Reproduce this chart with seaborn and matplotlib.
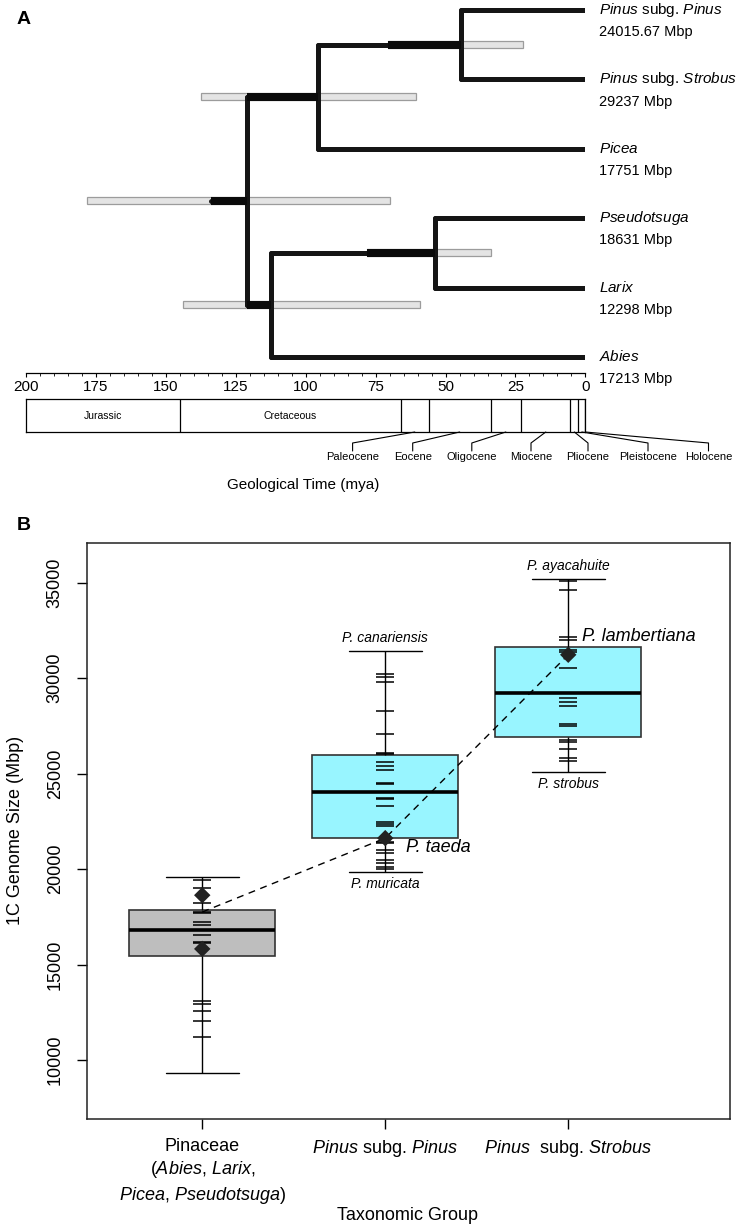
import numpy as np
import pandas as pd
import matplotlib
matplotlib.use("Agg")
import matplotlib.pyplot as plt
import seaborn as sns

# ---------------- data: panel A (time-calibrated tree) ----------------
tip_labels = [r"$\mathit{Pinus}$ subg. $\mathit{Pinus}$", r"$\mathit{Pinus}$ subg. $\mathit{Strobus}$",
              r"$\mathit{Picea}$", r"$\mathit{Pseudotsuga}$", r"$\mathit{Larix}$", r"$\mathit{Abies}$"]
tip_genome = ["24015.67 Mbp", "29237 Mbp", "17751 Mbp", "18631 Mbp", "12298 Mbp", "17213 Mbp"]
# internal nodes: children refer to tips 0..5 or nodes 6..10
node_children = [(0, 1), (6, 2), (3, 4), (8, 5), (7, 9)]
node_age = [44.5, 95.6, 53.8, 112.4, 121.0]
node_hpd_low = [22.3, 60.4, 33.7, 59.1, 69.9]
node_hpd_high = [70.6, 137.4, 78.1, 143.9, 178.2]
root_stem_age = 134.0

time_ticks = list(range(0, 201, 25))
period_names = ["Jurassic", "Cretaceous"]
period_start = [200, 145]
period_end = [145, 66]
epoch_names = ["Paleocene", "Eocene", "Oligocene", "Miocene", "Pliocene", "Pleistocene", "Holocene"]
epoch_start = [66, 56, 33.9, 23, 5.33, 2.58, 0.0117]
epoch_end = [56, 33.9, 23, 5.33, 2.58, 0.0117, 0]

# ---------------- data: panel B (genome sizes) ----------------
groups = ["Pinaceae", "Pinus subg. Pinus", "Pinus subg. Strobus"]
group_ticklabels = ["Pinaceae\n($\\mathit{Abies}$, $\\mathit{Larix}$,\n$\\mathit{Picea}$, $\\mathit{Pseudotsuga}$)",
                    r"$\mathit{Pinus}$ subg. $\mathit{Pinus}$",
                    r"$\mathit{Pinus}$  subg. $\mathit{Strobus}$"]
box_min = [9303, 19869, 25110]
box_q1 = [15451, 21620, 26892]
box_median = [16814, 24031, 29219]
box_q3 = [17862, 25986, 31610]
box_max = [19576, 31436, 35210]
box_colors = ["#bebebe", "#98f5ff", "#98f5ff"]

species_pinaceae = [19434, 19020, 18213, 17751, 17690, 17207, 17075, 16551, 16201, 16117,
                    13109, 12935, 12585, 12029, 11222]
species_pinus = [30215, 30037, 29775, 28291, 27070, 26106, 26040, 25634, 25425, 25215,
                 24510, 24450, 23730, 23660, 23313, 22490, 22370, 22230, 21420, 21360,
                 21007, 20832, 20482, 20308, 20131, 19995]
species_strobus = [35070, 34600, 32154, 32013, 31489, 31347, 30529, 28957, 28731, 28521,
                   27610, 27469, 26772, 26631, 26284, 25812, 25671]
sequenced_group = [0, 0, 1, 2]
sequenced_size = [18631, 15818, 21620, 31226]
trend_group = [0, 1, 2]
trend_size = [17751, 21620, 31226]
extreme_labels = ["P. canariensis", "P. muricata", "P. ayacahuite", "P. strobus"]
extreme_group = [1, 1, 2, 2]
extreme_is_max = [True, False, True, False]
big_labels = ["P. taeda", "P. lambertiana"]
big_label_group = [1, 2]
big_label_size = [21620, 31226]

# ---------------- style ----------------
sns.set_theme(style="ticks")
plt.rcParams["font.family"] = ["Liberation Sans", "DejaVu Sans"]
plt.rcParams["mathtext.fontset"] = "custom"
plt.rcParams["mathtext.it"] = "Liberation Sans:italic"
plt.rcParams["mathtext.rm"] = "Liberation Sans"
plt.rcParams["mathtext.bf"] = "Liberation Sans:bold"
plt.rcParams["text.color"] = "black"
plt.rcParams["axes.labelcolor"] = "black"
plt.rcParams["xtick.color"] = "black"
plt.rcParams["ytick.color"] = "black"
plt.rcParams["xtick.labelcolor"] = "black"
plt.rcParams["ytick.labelcolor"] = "black"

W, H = 742, 1227
fig = plt.figure(figsize=(W / 100, H / 100), dpi=100)
fig.patch.set_facecolor("white")


def rect(x0, y0, x1, y1):
    return [x0 / W, 1 - y1 / H, (x1 - x0) / W, (y1 - y0) / H]


# ================= Panel A =================
ax1 = fig.add_axes(rect(26, 0, 585.4, 373))
ax1.set_xlim(200, 0)
ax1.set_ylim(5.231, -0.144)
ax1.patch.set_alpha(0)

ypos = {i: float(i) for i in range(len(tip_labels))}
xpos = {i: 0.0 for i in range(len(tip_labels))}
parent = {}
for k, (a, b) in enumerate(node_children):
    nid = len(tip_labels) + k
    ypos[nid] = (ypos[a] + ypos[b]) / 2
    xpos[nid] = node_age[k]
    parent[a] = nid
    parent[b] = nid

branch_kw = dict(color="#151515", lw=3.6, solid_capstyle="round", zorder=2)
thick_kw = dict(color="#0a0a0a", lw=5.8, solid_capstyle="butt", zorder=3)

# HPD bars
node_y = [ypos[len(tip_labels) + k] for k in range(len(node_age))]
ax1.barh(node_y, np.array(node_hpd_high) - np.array(node_hpd_low), left=node_hpd_low,
         height=0.1, color="#e4e4e4", edgecolor="#9c9c9c", linewidth=0.9, zorder=1)

for k, (a, b) in enumerate(node_children):
    nid = len(tip_labels) + k
    age = node_age[k]
    ax1.plot([age, age], [ypos[a], ypos[b]], **branch_kw)
    for c in (a, b):
        ax1.plot([age, xpos[c]], [ypos[c], ypos[c]], **branch_kw)
    # stem portion lying inside the node's HPD bar
    stem_start = xpos[parent[nid]] if nid in parent else root_stem_age
    seg_start = min(stem_start, node_hpd_high[k])
    if seg_start > age:
        ax1.plot([seg_start, age], [ypos[nid], ypos[nid]], **thick_kw)
root_id = len(tip_labels) + len(node_age) - 1
ax1.plot([root_stem_age, xpos[root_id]], [ypos[root_id]] * 2, **branch_kw)

for i, (lab, gs) in enumerate(zip(tip_labels, tip_genome)):
    ax1.annotate(lab, xy=(0, i), xytext=(10, 0), textcoords="offset points",
                 ha="left", va="center", fontsize=11, annotation_clip=False)
    ax1.annotate(gs, xy=(0, i), xytext=(10, -16), textcoords="offset points",
                 ha="left", va="center", fontsize=10.5, annotation_clip=False)

for s in ["top", "right", "left"]:
    ax1.spines[s].set_visible(False)
ax1.spines["bottom"].set_bounds(0, 200)
ax1.spines["bottom"].set_linewidth(0.9)
ax1.spines["bottom"].set_color("black")
ax1.set_yticks([])
ax1.set_xticks(time_ticks)
ax1.set_xticks(np.arange(0, 201, 5), minor=True)
ax1.tick_params(axis="x", which="major", direction="out", length=3, width=0.8,
                labelsize=11, pad=2, colors="black")
ax1.tick_params(axis="x", which="minor", direction="out", length=2, width=0.6)

# geological time scale
ax2 = fig.add_axes(rect(26, 399, 585.4, 432))
ax2.set_xlim(200, 0)
ax2.set_ylim(0, 1)
ax2.set_xticks([])
ax2.set_yticks([])
for s in ax2.spines.values():
    s.set_linewidth(0.9)
    s.set_color("black")
inner_bounds = period_end + epoch_end[:-1]
ax2.vlines(inner_bounds, 0, 1, color="black", lw=0.9)
for name, s0, s1 in zip(period_names, period_start, period_end):
    ax2.text((s0 + s1) / 2, 0.5, name, ha="center", va="center", fontsize=7.5)

# ================= Panel B =================
ax3 = fig.add_axes(rect(86.6, 542.7, 730, 1119))

df_box = pd.DataFrame({
    "group": [g for g in groups for _ in range(5)],
    "size": [v for i in range(len(groups))
             for v in (box_min[i], box_q1[i], box_median[i], box_q3[i], box_max[i])],
})
sns.boxplot(data=df_box, x="group", y="size", hue="group", order=groups, hue_order=groups,
            palette=box_colors, width=0.8, whis=(0, 100), showfliers=False, saturation=1,
            linewidth=1.2, linecolor="#333333", legend=False, ax=ax3,
            medianprops={"color": "black", "linewidth": 2.6},
            whiskerprops={"color": "black", "linewidth": 1.0},
            capprops={"color": "black", "linewidth": 1.0})

rug_x = [0] * len(species_pinaceae) + [1] * len(species_pinus) + [2] * len(species_strobus)
rug_y = species_pinaceae + species_pinus + species_strobus
sns.scatterplot(x=rug_x, y=rug_y, marker="_", s=170, color="black", linewidth=1.1,
                ax=ax3, zorder=4, legend=False)
sns.lineplot(x=trend_group, y=trend_size, color="black", lw=1.0, linestyle=(0, (5, 4)),
             sort=False, estimator=None, ax=ax3, zorder=5, legend=False)
sns.scatterplot(x=sequenced_group, y=sequenced_size, marker="D", s=70, color="#222222",
                edgecolor="none", ax=ax3, zorder=6, legend=False)

for lab, g, is_max in zip(extreme_labels, extreme_group, extreme_is_max):
    yv = box_max[g] if is_max else box_min[g]
    ax3.annotate(lab, xy=(g, yv), xytext=(0, 9 if is_max else -9), textcoords="offset points",
                 ha="center", va="center", fontsize=10, style="italic")
ax3.annotate(big_labels[0], xy=(big_label_group[0], big_label_size[0]), xytext=(15, -6.5),
             textcoords="offset points", ha="left", va="center", fontsize=13, style="italic")
ax3.annotate(big_labels[1], xy=(big_label_group[1], big_label_size[1]), xytext=(10, 13),
             textcoords="offset points", ha="left", va="center", fontsize=13, style="italic")

ax3.set_xlim(-0.632, 2.884)
ax3.set_ylim(6908, 37096)
ax3.set_yticks([10000, 15000, 20000, 25000, 30000, 35000])
ax3.set_yticklabels(["10000", "15000", "20000", "25000", "30000", "35000"])
ax3.set_xticks([0, 1, 2])
ax3.set_xticklabels(group_ticklabels, linespacing=1.3)
ax3.tick_params(axis="y", labelrotation=90, length=7.5, width=1, pad=9, labelsize=13, colors="black")
ax3.tick_params(axis="x", length=7.5, width=1, pad=6, labelsize=13, colors="black")
for t in ax3.get_yticklabels():
    t.set_va("center")
for s in ax3.spines.values():
    s.set_visible(True)
    s.set_linewidth(1.1)
    s.set_color("#222222")
ax3.set_ylabel("1C Genome Size (Mbp)", fontsize=13)
ax3.set_xlabel("Taxonomic Group", fontsize=13)
ax3.yaxis.set_label_coords(-0.097, 0.5)
ax3.xaxis.set_label_coords(0.4995, -0.153)

# ================= overlay (panel letters, epoch leaders) =================
axo = fig.add_axes([0, 0, 1, 1])
axo.set_xlim(0, W)
axo.set_ylim(H, 0)
axo.axis("off")
axo.patch.set_alpha(0)
axo.text(24, 20, "A", fontsize=14, fontweight="bold", ha="center", va="center")
axo.text(24, 526, "B", fontsize=14, fontweight="bold", ha="center", va="center")
axo.text(303, 485, "Geological Time (mya)", fontsize=11, ha="center", va="center")

epoch_label_px = [352.6, 412.7, 471.8, 531, 588, 648, 708.5]
for name, s0, s1, lx in zip(epoch_names, epoch_start, epoch_end, epoch_label_px):
    sx = 26 + (200 - (s0 + s1) / 2) * 559.4 / 200
    axo.plot([sx, lx, lx], [432, 443, 451], color="black", lw=0.8)
    axo.text(lx, 457.5, name, fontsize=8, ha="center", va="center")

fig.savefig("out.png", dpi=100, facecolor="white")
